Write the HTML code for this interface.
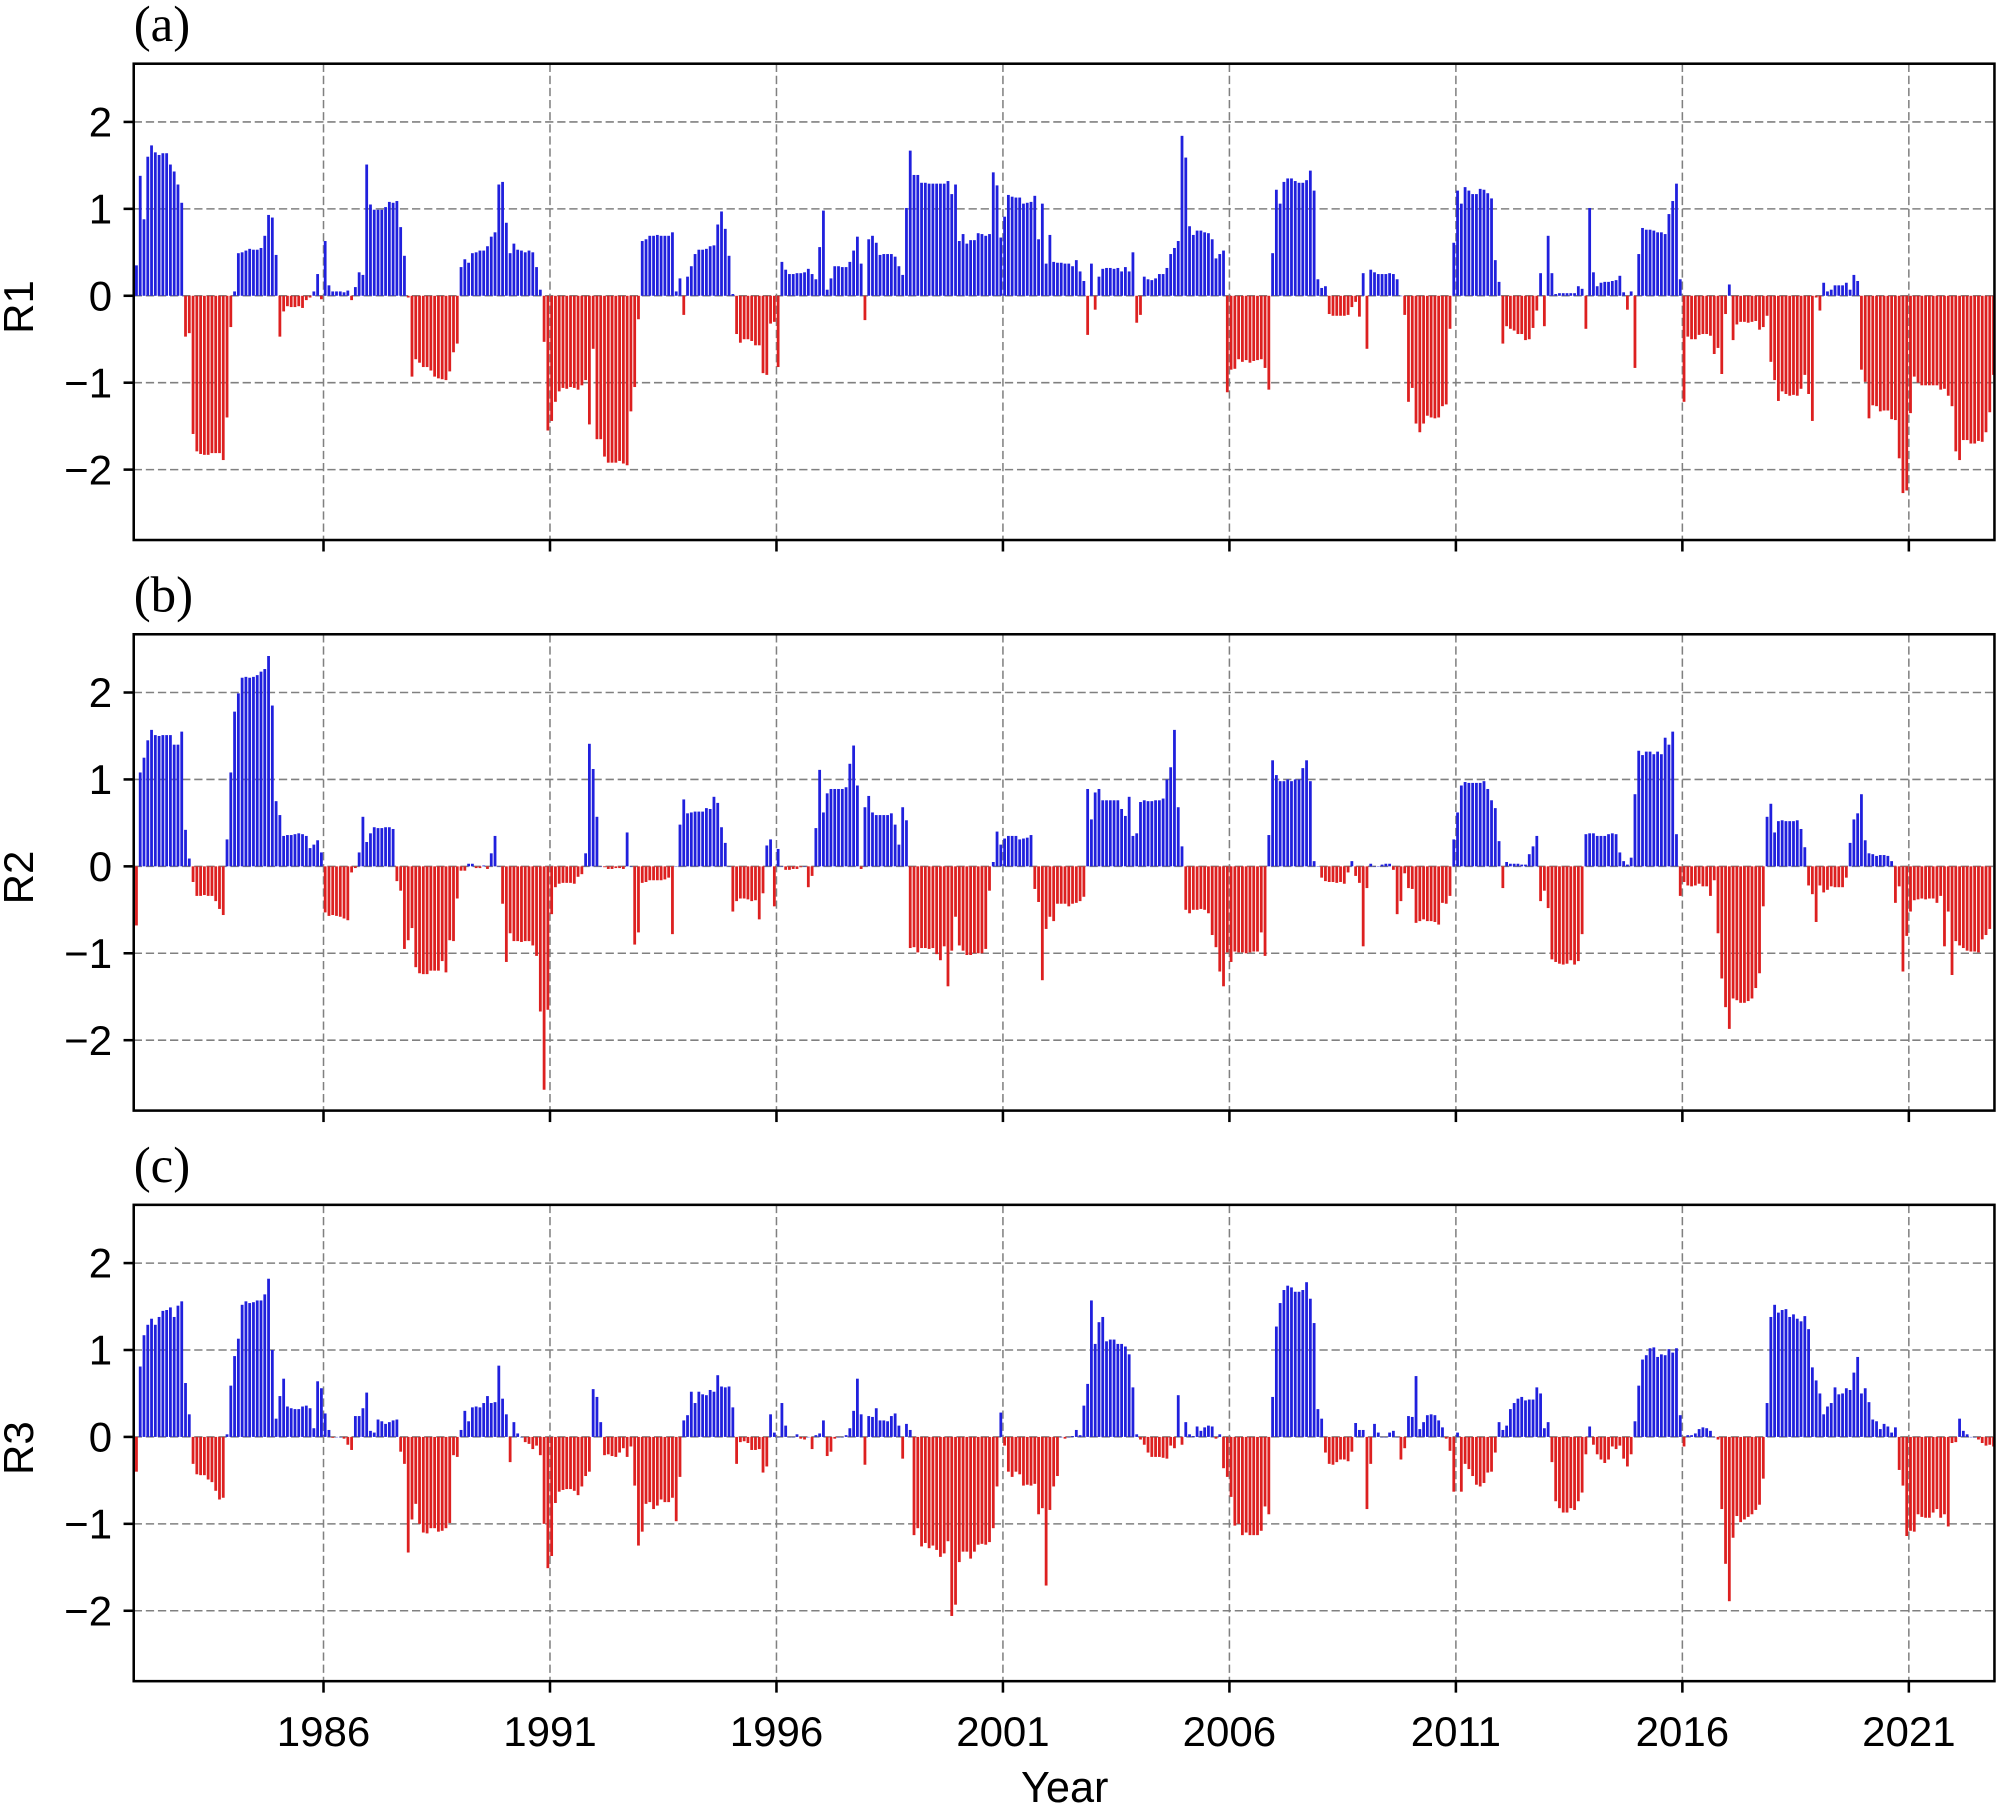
<!DOCTYPE html>
<html>
<head>
<meta charset="utf-8">
<style>
  html,body{margin:0;padding:0;background:#fff;}
  svg{display:block;}
  text{font-family:"Liberation Sans","DejaVu Sans",sans-serif;fill:#000;}
  .serif{font-family:"Liberation Serif","DejaVu Serif",serif;}
</style>
</head>
<body>
<svg id="chart" xmlns="http://www.w3.org/2000/svg" width="1997" height="1806" viewBox="0 0 1568 1418"></svg>
<script>
const xTickYears = [1986, 1991, 1996, 2001, 2006, 2011, 2016, 2021];
const yTicks = [-2, -1, 0, 1, 2];
const yTickLabels = ["\u22122", "\u22121", "0", "1", "2"];
const panelLabels = ["(a)", "(b)", "(c)"];
const seriesNames = ["R1", "R2", "R3"];
const startYear = 1981.87;

const r1Values = [
0.35,1.38,0.88,1.6,1.73,1.65,1.62,1.64,1.64,1.51,1.43,1.28,1.07,-0.47,-0.43,-1.59,-1.79,-1.82,-1.83,-1.83,-1.81,-1.81,-1.81,-1.89,-1.40,-0.36,0.05,0.49,0.5,0.52,0.54,0.53,0.53,0.55,0.69,0.93,0.9,0.47,-0.47,-0.18,-0.12,-0.13,-0.13,-0.12,-0.14,-0.05,-0.02,0.05,0.25,-0.04,0.63,0.12,0.05,0.05,0.05,0.04,0.06,-0.05,0.1,0.27,0.24,1.51,1.05,0.99,0.99,0.99,1.02,1.08,1.07,1.09,0.79,0.46,-0.02,-0.93,-0.73,-0.77,-0.82,-0.82,-0.86,-0.93,-0.95,-0.96,-0.97,-0.87,-0.65,-0.55,0.33,0.42,0.38,0.49,0.5,0.52,0.52,0.57,0.68,0.73,1.28,1.31,0.84,0.49,0.6,0.53,0.52,0.5,0.52,0.5,0.33,0.07,-0.53,-1.55,-1.44,-1.22,-1.1,-1.06,-1.07,-1.05,-1.06,-1.08,-1.03,-0.97,-1.48,-0.61,-1.65,-1.65,-1.85,-1.92,-1.92,-1.92,-1.90,-1.93,-1.95,-1.33,-1.05,-0.27,0.63,0.65,0.69,0.69,0.7,0.69,0.69,0.69,0.73,0.05,0.2,-0.22,0.22,0.34,0.48,0.53,0.53,0.54,0.57,0.58,0.82,0.97,0.77,0.46,0.02,-0.44,-0.54,-0.5,-0.5,-0.52,-0.57,-0.57,
-0.89,-0.91,-0.32,-0.3,-0.82,0.39,0.3,0.25,0.25,0.26,0.26,0.27,0.31,0.25,0.19,0.56,0.98,0.07,0.2,0.34,0.34,0.33,0.33,0.39,0.52,0.68,0.37,-0.28,0.65,0.69,0.61,0.47,0.48,0.48,0.48,0.45,0.34,0.24,1.01,1.67,1.39,1.39,1.3,1.3,1.29,1.29,1.29,1.29,1.29,1.32,1.17,1.28,0.63,0.71,0.6,0.64,0.64,0.72,0.71,0.69,0.71,1.42,1.27,0.67,0.91,1.16,1.14,1.13,1.13,1.06,1.07,1.08,1.15,0.65,1.06,0.37,0.7,0.39,0.38,0.38,0.37,0.37,0.34,0.41,0.28,0.17,-0.45,0.37,-0.16,0.22,0.31,0.32,0.32,0.31,0.32,0.28,0.33,0.28,0.5,-0.31,-0.22,0.22,0.19,0.18,0.2,0.25,0.25,0.32,0.48,0.55,0.63,1.84,1.59,0.8,0.7,0.75,0.75,0.73,0.72,0.65,0.43,0.48,0.52,-1.11,-0.85,-0.84,-0.73,-0.76,-0.74,-0.77,-0.75,-0.74,-0.73,-0.83,-1.08,0.49,1.22,1.06,1.31,1.35,1.35,1.32,1.3,1.3,1.33,1.44,1.21,0.19,0.09,0.11,-0.21,-0.23,-0.23,-0.23,-0.23,-0.22,-0.13,-0.07,-0.24,0.26,-0.61,0.3,0.27,0.25,
0.25,0.25,0.26,0.25,0.19,0,-0.22,-1.22,-1.06,-1.47,-1.57,-1.47,-1.38,-1.4,-1.41,-1.4,-1.27,-1.25,-0.38,0.61,1.21,1.06,1.25,1.21,1.17,1.17,1.23,1.22,1.18,1.12,0.41,0.16,-0.55,-0.35,-0.38,-0.4,-0.44,-0.44,-0.51,-0.5,-0.37,-0.17,0.26,-0.35,0.69,0.26,0.02,0.03,0.03,0.03,0.03,0.03,0.11,0.08,-0.38,1.01,0.27,0.11,0.15,0.16,0.16,0.17,0.18,0.23,0.04,-0.16,0.05,-0.83,0.48,0.78,0.76,0.76,0.75,0.73,0.73,0.71,0.94,1.09,1.29,0.19,-1.22,-0.47,-0.5,-0.5,-0.45,-0.44,-0.44,-0.46,-0.67,-0.6,-0.9,-0.21,0.13,-0.51,-0.33,-0.3,-0.3,-0.31,-0.3,-0.29,-0.39,-0.36,-0.23,-0.76,-0.97,-1.21,-1.1,-1.13,-1.15,-1.14,-1.15,-1.07,-0.91,-1.13,-1.44,-0.02,-0.17,0.15,0.05,0.07,0.12,0.12,0.12,0.15,0.07,0.24,0.17,-0.85,-0.99,-1.41,-1.26,-1.27,-1.33,-1.32,-1.32,-1.42,-1.43,-1.87,-2.27,-2.24,-1.35,-0.93,-1.0,-1.03,-1.03,-1.03,-1.03,-1.03,-1.08,-1.07,-1.15,-1.27,-1.79,-1.89,-1.66,-1.66,-1.7,-1.7,-1.67,-1.68,-1.57,-1.34,-0.91
];

const r2Values = [
-0.68,1.08,1.25,1.45,1.57,1.51,1.5,1.51,1.51,1.51,1.4,1.4,1.55,0.42,0.09,-0.18,-0.34,-0.34,-0.33,-0.34,-0.34,-0.4,-0.49,-0.56,0.31,1.08,1.78,1.99,2.17,2.18,2.17,2.18,2.2,2.24,2.27,2.42,1.85,0.75,0.59,0.35,0.36,0.36,0.37,0.38,0.37,0.35,0.21,0.25,0.3,0.16,-0.53,-0.57,-0.56,-0.57,-0.58,-0.6,-0.62,-0.07,-0.02,0.16,0.57,0.28,0.38,0.45,0.44,0.44,0.45,0.45,0.43,-0.17,-0.28,-0.95,-0.85,-0.71,-1.16,-1.23,-1.24,-1.24,-1.2,-1.2,-1.2,-1.09,-1.22,-0.85,-0.86,-0.37,-0.05,-0.05,0.03,0.03,-0.02,-0.02,0.01,-0.03,0.15,0.35,0,-0.43,-1.1,-0.77,-0.86,-0.86,-0.87,-0.86,-0.86,-0.91,-1.03,-1.67,-2.57,-1.65,-0.55,-0.24,-0.2,-0.19,-0.19,-0.19,-0.2,-0.12,-0.09,0.15,1.41,1.12,0.57,0,-0.01,-0.03,-0.03,-0.02,-0.02,-0.03,0.39,0,-0.9,-0.76,-0.19,-0.18,-0.16,-0.16,-0.16,-0.16,-0.15,-0.13,-0.78,0,0.48,0.77,0.61,0.62,0.63,0.63,0.63,0.67,0.66,0.8,0.73,0.45,0.27,0,-0.52,-0.4,-0.37,-0.37,-0.38,-0.4,-0.39,
-0.61,-0.31,0.24,0.31,-0.46,0.2,0,-0.04,-0.04,-0.03,-0.03,-0.01,0,-0.24,-0.11,0.44,1.11,0.62,0.84,0.89,0.89,0.89,0.89,0.91,1.18,1.39,0.93,-0.03,0.68,0.81,0.62,0.59,0.59,0.59,0.59,0.61,0.48,0.25,0.68,0.53,-0.94,-0.93,-0.99,-0.94,-0.94,-0.95,-0.94,-1.01,-1.08,-0.92,-1.38,-0.97,-0.58,-0.91,-0.97,-1.02,-1.02,-1.0,-1.0,-1.0,-0.95,-0.28,0.05,0.4,0.25,0.32,0.35,0.35,0.35,0.31,0.32,0.33,0.36,-0.26,-0.41,-1.31,-0.72,-0.58,-0.63,-0.43,-0.43,-0.43,-0.46,-0.43,-0.42,-0.4,-0.35,0.89,0.54,0.85,0.89,0.76,0.76,0.76,0.76,0.76,0.66,0.58,0.8,0.35,0.38,0.74,0.76,0.75,0.75,0.76,0.76,0.78,1.0,1.14,1.57,0.68,0.23,-0.5,-0.54,-0.5,-0.5,-0.49,-0.5,-0.54,-0.79,-0.93,-1.21,-1.38,-0.99,-1.1,-0.98,-0.99,-0.99,-1.0,-0.99,-0.98,-0.98,-0.76,-1.03,0.36,1.22,1.05,0.98,0.98,1.0,0.98,1.0,1.0,1.13,1.22,0.98,0.06,0,-0.13,-0.17,-0.18,-0.18,-0.19,-0.18,-0.2,-0.07,0.06,-0.11,-0.19,-0.92,-0.25,0.03,0,
0,0.02,0.03,0.03,-0.04,-0.55,-0.4,-0.08,-0.25,-0.26,-0.65,-0.63,-0.61,-0.63,-0.63,-0.64,-0.67,-0.42,-0.43,-0.34,0.31,0.62,0.93,0.97,0.96,0.96,0.96,0.96,0.98,0.89,0.76,0.67,0.29,-0.25,0.05,0.03,0.03,0.03,0.02,0.02,0.14,0.23,0.35,-0.4,-0.28,-0.48,-1.07,-1.1,-1.12,-1.13,-1.12,-1.08,-1.13,-1.09,-0.78,0.37,0.38,0.38,0.35,0.35,0.35,0.37,0.38,0.37,0.16,0.06,0.02,0.1,0.83,1.33,1.28,1.32,1.32,1.29,1.32,1.29,1.48,1.4,1.55,0.37,-0.34,-0.18,-0.22,-0.23,-0.22,-0.2,-0.23,-0.23,-0.34,-0.16,-0.77,-1.29,-1.62,-1.87,-1.52,-1.54,-1.57,-1.57,-1.55,-1.52,-1.4,-1.23,-0.46,0.57,0.72,0.39,0.52,0.53,0.52,0.52,0.52,0.53,0.43,0.22,-0.22,-0.32,-0.64,-0.22,-0.3,-0.27,-0.23,-0.24,-0.24,-0.24,-0.13,0.27,0.54,0.61,0.83,0.3,0.15,0.14,0.12,0.13,0.13,0.12,0.06,-0.42,-0.23,-1.21,-0.8,-0.52,-0.39,-0.38,-0.37,-0.38,-0.37,-0.37,-0.42,-0.34,-0.92,-0.52,-1.25,-0.86,-0.91,-0.94,-0.97,-0.98,-0.98,-0.99,-0.84,-0.79,-0.72
];

const r3Values = [
-0.4,0.81,1.17,1.29,1.36,1.29,1.38,1.45,1.46,1.49,1.38,1.51,1.56,0.62,0.26,-0.31,-0.43,-0.44,-0.44,-0.49,-0.52,-0.62,-0.72,-0.7,0.03,0.59,0.93,1.13,1.52,1.56,1.54,1.55,1.57,1.57,1.64,1.82,1.0,0.21,0.47,0.67,0.35,0.33,0.32,0.32,0.35,0.36,0.33,0.1,0.64,0.56,0.27,0.08,-0.01,0,0,-0.02,-0.09,-0.15,0.24,0.24,0.33,0.51,0.07,0.05,0.2,0.18,0.15,0.17,0.19,0.2,-0.17,-0.31,-1.33,-0.95,-0.77,-1.0,-1.1,-1.11,-1.05,-1.05,-1.09,-1.08,-1.05,-0.99,-0.21,-0.23,0.08,0.3,0.18,0.34,0.35,0.34,0.39,0.47,0.39,0.4,0.82,0.44,0.26,-0.29,0.17,0.04,0,-0.06,-0.08,-0.14,-0.1,-0.21,-1.0,-1.51,-1.37,-0.76,-0.63,-0.61,-0.6,-0.6,-0.62,-0.67,-0.57,-0.45,-0.4,0.55,0.46,0.17,-0.21,-0.2,-0.22,-0.23,-0.18,-0.13,-0.23,-0.11,-0.56,-1.25,-1.09,-0.77,-0.75,-0.83,-0.79,-0.72,-0.75,-0.75,-0.7,-0.97,-0.46,0.19,0.25,0.52,0.39,0.52,0.49,0.48,0.54,0.52,0.71,0.58,0.57,0.58,0.34,-0.31,-0.06,-0.05,-0.07,-0.15,-0.15,-0.14,
-0.41,-0.34,0.26,0.05,0,0.39,0.13,0,0,0.03,-0.02,-0.03,0,-0.14,0.02,0.04,0.19,-0.22,-0.17,-0.02,0,0,0.02,0.1,0.3,0.67,0.26,-0.32,0.24,0.23,0.33,0.19,0.19,0.18,0.24,0.27,0.13,-0.25,0.15,0.08,-1.13,-1.05,-1.26,-1.22,-1.28,-1.25,-1.3,-1.38,-1.34,-1.2,-2.06,-1.93,-1.44,-1.32,-1.32,-1.4,-1.32,-1.24,-1.23,-1.24,-1.21,-1.05,-0.57,0.28,-0.1,-0.4,-0.46,-0.4,-0.43,-0.56,-0.55,-0.56,-0.54,-0.89,-0.82,-1.71,-0.84,-0.57,-0.45,0,-0.02,0,0.01,0.08,0.02,0.36,0.61,1.57,1.07,1.32,1.38,1.1,1.12,1.12,1.07,1.07,1.04,0.95,0.57,0.03,-0.03,-0.09,-0.18,-0.23,-0.23,-0.23,-0.24,-0.25,-0.1,-0.13,0.48,-0.09,0.17,0.03,0.01,0.12,0.07,0.11,0.13,0.12,-0.02,0.03,-0.36,-0.46,-0.69,-1.02,-1.0,-1.13,-1.1,-1.13,-1.13,-1.13,-1.08,-0.8,-0.89,0.46,1.27,1.54,1.69,1.74,1.72,1.67,1.67,1.69,1.78,1.59,1.31,0.32,0.21,-0.18,-0.31,-0.32,-0.29,-0.26,-0.26,-0.28,-0.17,0.16,0.08,0.08,-0.83,-0.31,0.15,0.05,
0,0,0.05,0.07,0,-0.26,-0.13,0.24,0.23,0.7,0.09,0.17,0.25,0.26,0.25,0.19,0.11,-0.02,-0.16,-0.63,0.05,-0.63,-0.31,-0.37,-0.45,-0.55,-0.57,-0.53,-0.41,-0.4,-0.18,0.17,0.08,0.13,0.32,0.39,0.44,0.46,0.42,0.43,0.43,0.57,0.5,0.1,0.17,-0.29,-0.74,-0.82,-0.87,-0.87,-0.82,-0.84,-0.74,-0.64,-0.2,0.12,-0.09,-0.2,-0.26,-0.3,-0.26,-0.11,-0.14,-0.1,-0.25,-0.34,-0.2,0.18,0.59,0.89,0.94,1.02,1.03,0.92,0.95,0.94,1.01,0.97,1.02,0.25,-0.11,0.02,0.02,0.04,0.09,0.11,0.1,0.07,0,-0.03,-0.83,-1.46,-1.89,-1.16,-0.91,-0.98,-0.95,-0.92,-0.89,-0.84,-0.78,-0.48,0.39,1.38,1.52,1.43,1.46,1.47,1.38,1.41,1.36,1.33,1.39,1.24,0.8,0.65,0.5,0.26,0.35,0.39,0.57,0.49,0.5,0.56,0.54,0.74,0.92,0.5,0.56,0.4,0.2,0.18,0.09,0.15,0.12,0.05,0.11,-0.38,-0.56,-1.14,-1.08,-1.09,-0.89,-0.92,-0.93,-0.93,-0.87,-0.83,-0.93,-0.89,-1.03,-0.07,-0.06,0.21,0.07,0.03,0,0,-0.03,-0.07,-0.1,-0.09,-0.11
];

const NS = "http://www.w3.org/2000/svg";
const svg = document.getElementById("chart");
const plotLeft = 105, plotRight = 1566;
const xMin = 1981.81, xMax = 2022.89;
const yMin = -2.81, yMax = 2.67;
const panelTops = [50, 498, 946];
const panelHeight = 374;

function xScale(t) { return plotLeft + (t - xMin) / (xMax - xMin) * (plotRight - plotLeft); }
function makeYScale(top) { return v => top + (yMax - v) / (yMax - yMin) * panelHeight; }
function el(tag, attrs, parent) {
  const e = document.createElementNS(NS, tag);
  for (const k in attrs) e.setAttribute(k, attrs[k]);
  (parent || svg).appendChild(e);
  return e;
}

const allSeries = [r1Values, r2Values, r3Values];
const monthW = (xScale(2000) - xScale(1999)) / 12;
const barW = monthW * 0.74;

allSeries.forEach((values, p) => {
  const top = panelTops[p];
  const bottom = top + panelHeight;
  const yScale = makeYScale(top);
  const g = el("g", {});
  
  

  const clip = el("clipPath", { id: "clip" + p }, g);
  el("rect", { x: plotLeft, y: top, width: plotRight - plotLeft, height: panelHeight }, clip);

  const grid = el("g", { stroke: "#808080", "stroke-width": 1.2, "stroke-dasharray": "6.5,3", fill: "none" }, g);
  
  
  xTickYears.forEach(yr => {
    const x = xScale(yr);
    el("line", { x1: x, x2: x, y1: top, y2: bottom }, grid);
  });
  yTicks.forEach(v => {
    const y = yScale(v);
    el("line", { x1: plotLeft, x2: plotRight, y1: y, y2: y }, grid);
  });

  const bars = el("g", { "clip-path": "url(#clip" + p + ")" }, g);
  
  
  values.forEach((v, i) => {
    const t = startYear + i / 12;
    const xc = xScale(t);
    const y0 = yScale(0), y1 = yScale(v);
    const r = el("rect", {
      x: (xc - barW / 2).toFixed(2),
      y: Math.min(y0, y1).toFixed(2),
      width: barW.toFixed(2),
      height: Math.max(Math.abs(y1 - y0), 0.3).toFixed(2),
      fill: v >= 0 ? "#2020dd" : "#dd2020"
    }, bars);
    
    
  });

  const frame = el("rect", { x: plotLeft, y: top, width: plotRight - plotLeft, height: panelHeight, fill: "none", stroke: "#000", "stroke-width": 2 }, g);
  
  

  yTicks.forEach((v, k) => {
    const y = yScale(v);
    el("line", { x1: plotLeft - 8, x2: plotLeft, y1: y, y2: y, stroke: "#000", "stroke-width": 2 }, g);
    const tl = el("text", { x: 88, y: y + 11.5, "text-anchor": "end", "font-size": 33 }, g);
    tl.textContent = yTickLabels[k];
    
    
  });

  xTickYears.forEach(yr => {
    const x = xScale(yr);
    el("line", { x1: x, x2: x, y1: bottom, y2: bottom + 9, stroke: "#000", "stroke-width": 2 }, g);
    if (p === 2) {
      const tl = el("text", { x: x, y: 1371, "text-anchor": "middle", "font-size": 33 }, g);
      tl.textContent = String(yr);
      
      
    }
  });

  const cy = top + panelHeight / 2 + 4;
  const yt = el("text", { x: 0, y: 0, "text-anchor": "middle", "font-size": 33, transform: "translate(26," + cy + ") rotate(-90)" }, g);
  yt.textContent = seriesNames[p];
  
  

  const pl = el("text", { x: 105, y: top - 18, "font-size": 40, class: "serif" }, g);
  pl.textContent = panelLabels[p];
  
  
});

const xt = el("text", { x: 836, y: 1415, "text-anchor": "middle", "font-size": 34 });
xt.textContent = "Year";


</script>
</body>
</html>
